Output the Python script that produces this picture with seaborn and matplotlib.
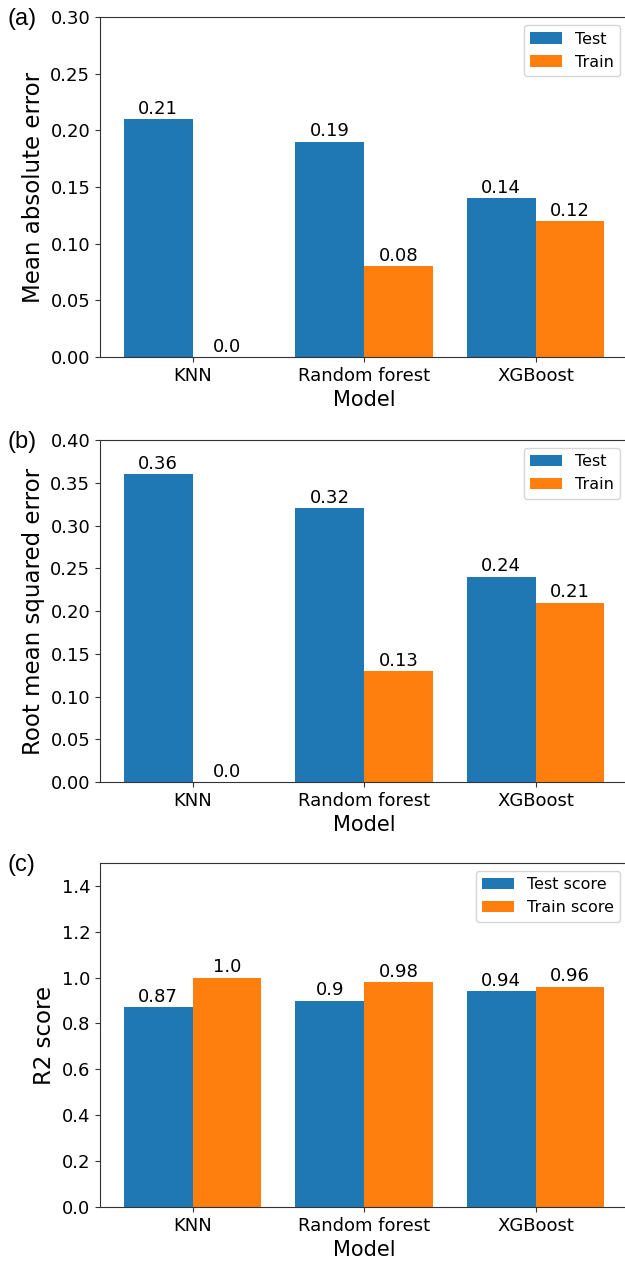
import matplotlib
matplotlib.use("Agg")
import matplotlib.pyplot as plt
import matplotlib.ticker as mticker
import pandas as pd
import seaborn as sns

models = ["KNN", "Random forest", "XGBoost"]

mae_test = [0.21, 0.19, 0.14]
mae_train = [0.0, 0.08, 0.12]

rmse_test = [0.36, 0.32, 0.24]
rmse_train = [0.0, 0.13, 0.21]

r2_test = [0.87, 0.9, 0.94]
r2_train = [1.0, 0.98, 0.96]


def long_frame(test_vals, train_vals, test_name, train_name):
    """Stack test/train values into a long frame for seaborn."""
    return pd.DataFrame({
        "Model": models * 2,
        "value": list(test_vals) + list(train_vals),
        "set": [test_name] * len(models) + [train_name] * len(models),
    })


sns.set_style("ticks", {"axes.edgecolor": "0.2", "text.color": "black",
                        "xtick.color": "0.2", "ytick.color": "0.2",
                        "axes.labelcolor": "black"})
plt.rcParams["font.family"] = ["DejaVu Sans"]

fig = plt.figure(figsize=(6.25, 12.62), dpi=100)

panels = [
    # (tag, test, train, names, ylabel, ylim, step, rect)
    ("(a)", mae_test, mae_train, ("Test", "Train"), "Mean absolute error",
     0.30, 0.05, [0.16, 0.717, 0.845, 0.2694]),
    ("(b)", rmse_test, rmse_train, ("Test", "Train"), "Root mean squared error",
     0.40, 0.05, [0.16, 0.3803, 0.845, 0.271]),
    ("(c)", r2_test, r2_train, ("Test score", "Train score"), "R2 score",
     1.5, 0.2, [0.16, 0.0436, 0.845, 0.2726]),
]

palette = ["#1f77b4", "#ff7f0e"]

for tag, test_vals, train_vals, names, ylabel, ytop, step, rect in panels:
    ax = fig.add_axes(rect)
    df = long_frame(test_vals, train_vals, *names)
    sns.barplot(data=df, x="Model", y="value", hue="set", palette=palette,
                saturation=1, width=0.8, linewidth=0, ax=ax)

    for container in ax.containers:
        labels = [str(round(b.get_height(), 2)) for b in container]
        ax.bar_label(container, labels=labels, padding=1, fontsize=13,
                     color="black")

    ax.set_xlim(-0.54, 2.54)
    ax.set_ylim(0, ytop)
    ax.yaxis.set_major_locator(mticker.MultipleLocator(step))
    if step < 0.1:
        ax.yaxis.set_major_formatter(mticker.FormatStrFormatter("%.2f"))
    else:
        ax.yaxis.set_major_formatter(mticker.FormatStrFormatter("%.1f"))
    ax.tick_params(labelsize=13, labelcolor="black")
    ax.set_xlabel("Model", fontsize=15)
    ax.set_ylabel(ylabel, fontsize=16.5)
    # the original figure is cropped just before the right spine
    ax.spines["right"].set_visible(False)

    handles, labels = ax.get_legend_handles_labels()
    ax.legend(handles, labels, loc="upper right", fontsize=11.5, title=None)

    top_px = 1262 * (1 - rect[1] - rect[3])
    fig.text(0.012, 1 - (top_px + 2) / 1262, tag, fontsize=17,
             family=["Liberation Sans", "DejaVu Sans"], va="center", ha="left")

fig.savefig("out.png", dpi=100)
plt.close(fig)
